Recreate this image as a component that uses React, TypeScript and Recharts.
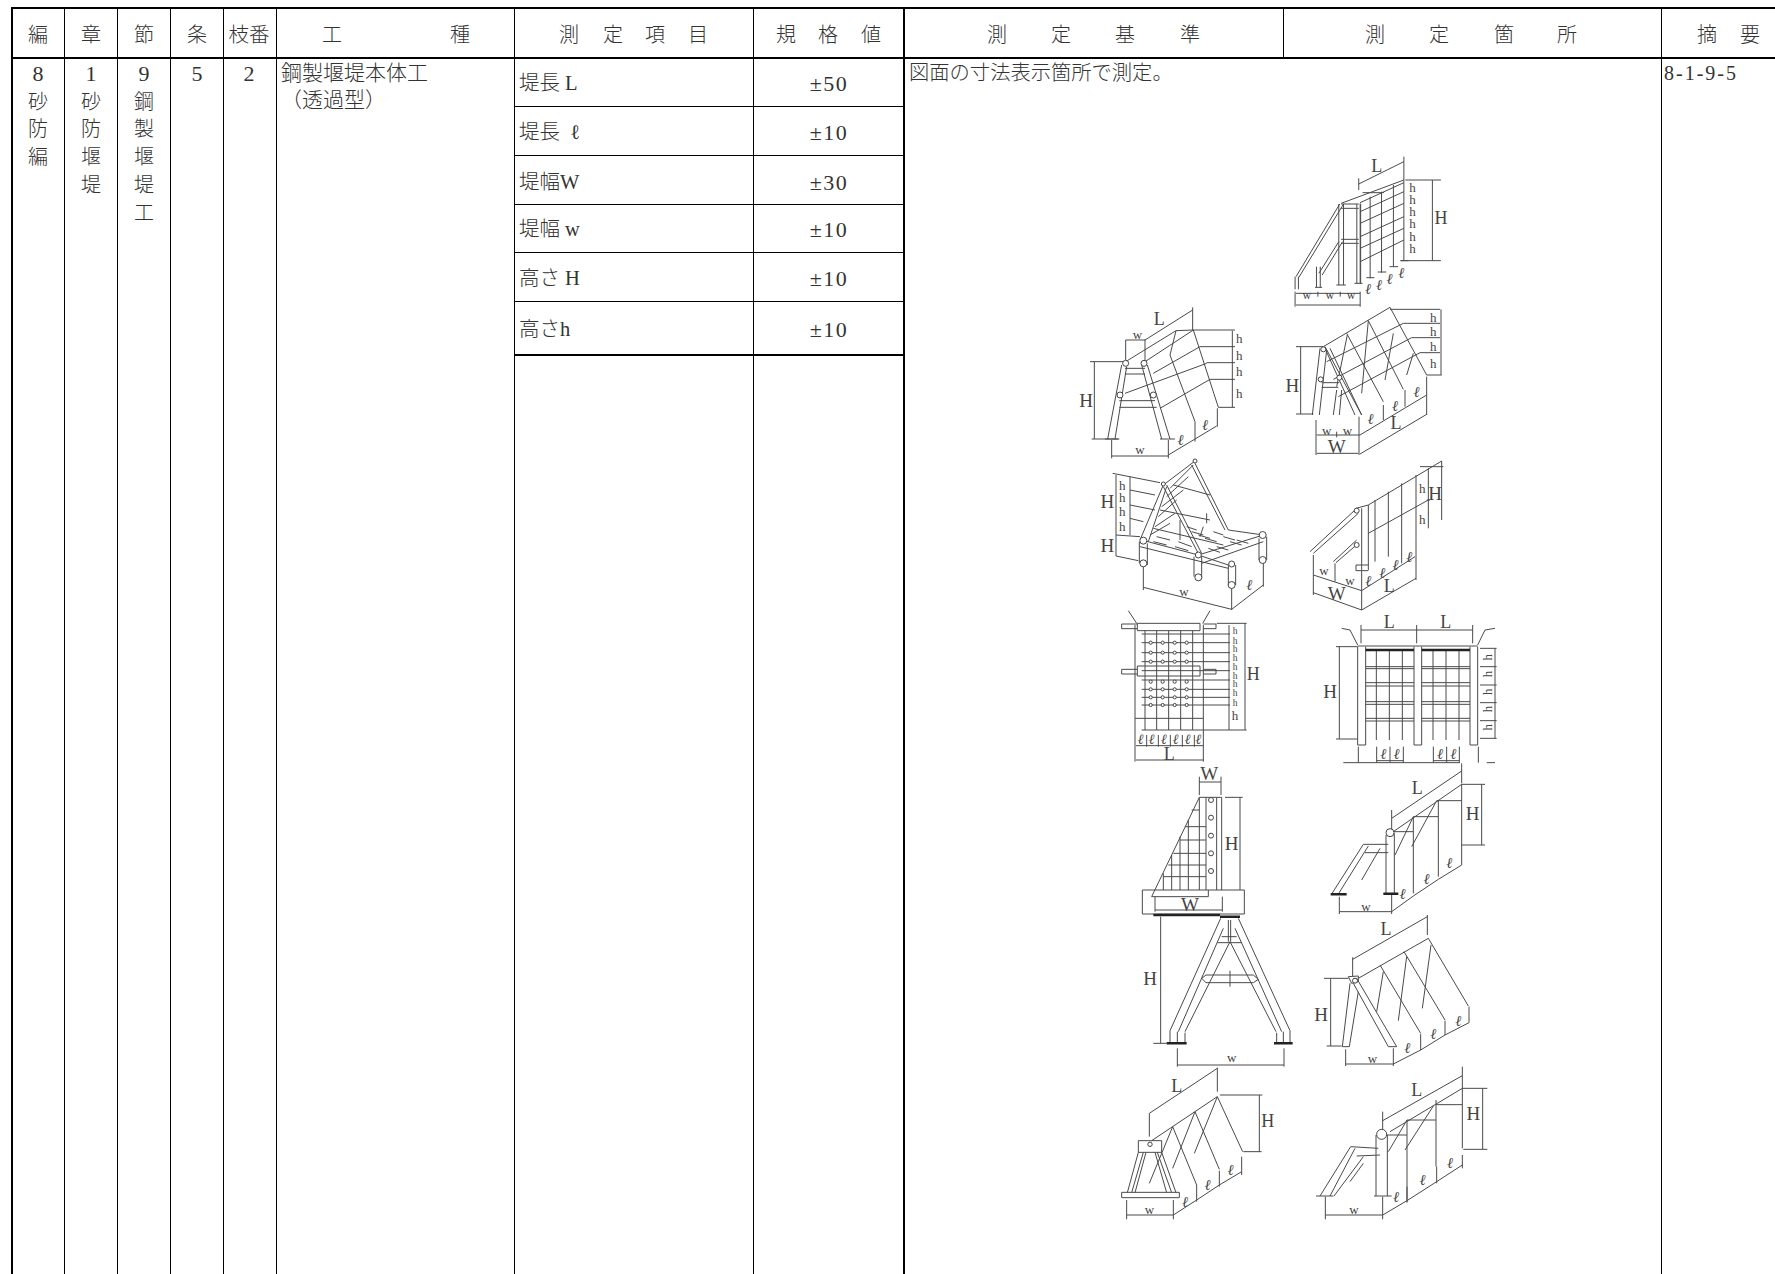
import { ComposedChart, Line, ReferenceLine, Scatter, XAxis, YAxis } from 'recharts';

const PAGE_W = 1775;
const PAGE_H = 1274;
const FONT = '"Liberation Serif", "Noto Sans CJK JP", serif';

// table content
const headerTexts = ['編', '章', '節', '条', '枝番', '工', '種', '測', '定', '項', '目', '規', '格', '値', '測', '定', '基', '準', '測', '定', '箇', '所', '摘', '要'];
const bookColumn = ['8', '砂', '防', '編'];
const chapterColumn = ['1', '砂', '防', '堰', '堤'];
const sectionColumn = ['9', '鋼', '製', '堰', '堤', '工'];
const articleNo = '5';
const branchNo = '2';
const workType = ['鋼製堰堤本体工', '（透過型）'];
const measureItems = ['堤長 L', '堤長  ℓ', '堤幅W', '堤幅 w', '高さ H', '高さh'];
const toleranceValues = ['±50', '±10', '±30', '±10', '±10', '±10'];
const criteriaText = '図面の寸法表示箇所で測定。';
const remarkText = '8-1-9-5';

// table layout
const headerXs = [38, 91, 144, 197, 249, 332, 460, 569, 613, 655, 698, 786, 828, 871, 997, 1061, 1125, 1190, 1375, 1439, 1504, 1567, 1707, 1750];
const verticalRules = [64, 117, 170, 223, 276, 514, 753, 1661];
const itemRowYs = [83, 132, 182, 229, 278, 329];
const itemRules = [106, 155, 204, 252, 301];
const stackYs = [73, 102, 129, 157, 185, 213];

type Sketch = {
  origin: number[];
  scale: number[];
  lines: number[][];
  heavy?: number[][];
  rings?: number[][];
  labels: (string | number)[][];
};

const sketchA: Sketch = {
  origin: [1030, 0],
  scale: [2.105, 3],
  lines: [
    [692, 552, 787, 485], [787, 470, 787, 540], [692, 535, 692, 570],
    [847, 540, 847, 782], [790, 540, 865, 540], [780, 782, 865, 782],
    [787, 540, 787, 782], [765, 555, 765, 800], [740, 575, 740, 818], [716, 590, 716, 835], [695, 610, 695, 850],
    [695, 635, 787, 575], [695, 670, 787, 610], [695, 710, 787, 650], [695, 745, 787, 685], [695, 785, 787, 720],
    [655, 610, 787, 540], [695, 608, 787, 548], [700, 578, 745, 578],
    [650, 612, 650, 855], [660, 612, 660, 855], [688, 612, 688, 850], [696, 612, 696, 850],
    [652, 612, 560, 830], [660, 612, 566, 832], [650, 725, 608, 820], [658, 725, 615, 825],
    [558, 830, 558, 868], [565, 830, 565, 868], [603, 800, 603, 862], [611, 800, 611, 862],
    [655, 612, 692, 612], [655, 625, 692, 625], [655, 718, 692, 718], [655, 730, 692, 730],
    [600, 862, 615, 862], [645, 855, 665, 855], [683, 850, 700, 850], [708, 833, 725, 833], [732, 816, 750, 816], [757, 800, 775, 800], [780, 782, 797, 782],
    [558, 875, 558, 920], [695, 875, 695, 920], [560, 915, 695, 915], [560, 880, 695, 880], [606, 875, 606, 890], [653, 875, 653, 890],
  ],
  labels: [
    ['L', 730, 497, 18], ['H', 865, 655, 18],
    ['h', 805, 562, 13], ['h', 805, 598, 13], ['h', 805, 635, 13], ['h', 805, 670, 13], ['h', 805, 708, 13], ['h', 805, 745, 13],
    ['w', 583, 884, 12], ['w', 631, 884, 12], ['w', 676, 884, 12],
    ['ℓ', 712, 868, 15], ['ℓ', 735, 855, 15], ['ℓ', 757, 838, 15], ['ℓ', 782, 820, 15],
  ],
};

const sketchB: Sketch = {
  origin: [1060, 300],
  scale: [3, 3],
  lines: [
    [255, 120, 398, 30], [398, 22, 398, 90], [255, 118, 255, 190],
    [197, 120, 255, 120], [197, 120, 197, 180],
    [103, 185, 103, 417], [90, 185, 190, 185], [95, 417, 175, 417],
    [517, 92, 517, 322], [400, 90, 525, 90], [420, 140, 525, 140], [440, 188, 525, 188], [450, 238, 525, 238], [475, 322, 525, 322],
    [197, 185, 348, 92, 400, 90], [255, 185, 400, 90],
    [400, 90, 475, 322], [348, 92, 330, 165, 405, 365],
    [280, 220, 420, 140], [195, 280, 440, 190], [300, 325, 450, 238],
    [325, 465, 470, 378], [405, 365, 405, 425], [472, 325, 472, 380],
    [185, 195, 143, 417], [200, 200, 165, 417], [245, 195, 305, 417], [262, 195, 330, 417],
    [135, 417, 178, 417], [300, 417, 345, 417],
    [195, 205, 255, 205], [195, 222, 255, 222], [178, 302, 285, 302], [178, 322, 290, 322],
    [155, 468, 325, 468], [155, 420, 155, 475], [325, 420, 325, 475],
  ],
  rings: [[197, 190, 3], [252, 190, 3], [180, 285, 3], [280, 285, 3]],
  labels: [
    ['L', 298, 58, 18], ['w', 232, 103, 13], ['H', 78, 300, 19],
    ['h', 538, 115, 13], ['h', 538, 165, 13], ['h', 538, 215, 13], ['h', 538, 280, 13],
    ['ℓ', 362, 420, 15], ['ℓ', 435, 375, 15], ['w', 240, 448, 13],
  ],
};

const sketchC: Sketch = {
  origin: [1060, 300],
  scale: [3, 3],
  lines: [
    [790, 140, 990, 22], [722, 140, 722, 342], [708, 140, 790, 140], [708, 342, 760, 342],
    [990, 22, 1100, 225], [925, 62, 1030, 268], [860, 100, 970, 305], [795, 140, 905, 345],
    [990, 28, 1140, 28], [1030, 70, 1140, 70], [1055, 113, 1140, 113], [1080, 158, 1140, 158], [1100, 225, 1145, 225], [1143, 28, 1143, 225],
    [800, 185, 1030, 70], [820, 238, 1055, 113], [835, 290, 1080, 158],
    [925, 62, 905, 280], [862, 105, 830, 260], [1000, 100, 975, 240], [1060, 160, 1040, 225],
    [780, 145, 757, 345], [800, 150, 778, 345], [795, 145, 885, 345], [810, 145, 905, 345], [830, 270, 820, 345], [845, 270, 838, 345],
    [785, 248, 838, 248], [785, 262, 835, 262],
    [770, 405, 900, 405], [830, 395, 830, 412], [770, 460, 895, 460], [768, 360, 768, 465], [897, 350, 897, 465],
    [900, 405, 1100, 285], [970, 315, 970, 360], [1035, 270, 1035, 320], [1100, 230, 1100, 345], [900, 462, 1100, 343],
  ],
  rings: [[782, 238, 2.5], [838, 233, 2.5], [790, 148, 2.5]],
  labels: [
    ['H', 697, 255, 19], ['h', 1120, 52, 13], ['h', 1120, 93, 13], ['h', 1120, 140, 13], ['h', 1120, 190, 13],
    ['w', 800, 390, 13], ['w', 862, 390, 13], ['W', 830, 440, 19],
    ['ℓ', 932, 358, 15], ['ℓ', 1005, 318, 15], ['ℓ', 1070, 275, 15], ['L', 1008, 368, 18],
  ],
};

const sketchD: Sketch = {
  origin: [1060, 300],
  scale: [3, 3],
  lines: [
    [310, 555, 405, 483], [330, 565, 400, 495], [240, 720, 310, 555], [265, 725, 320, 560],
    [405, 490, 505, 690], [395, 495, 495, 690], [310, 560, 420, 770], [320, 555, 425, 760],
    [320, 590, 385, 530], [305, 620, 370, 570], [295, 650, 350, 600], [285, 680, 345, 640], [270, 705, 330, 670],
    [340, 555, 450, 585], [300, 630, 450, 660], [280, 685, 490, 735],
    [245, 720, 415, 765, 505, 795], [240, 740, 505, 805], [415, 765, 610, 705], [505, 690, 610, 705], [425, 790, 610, 725],
    [430, 680, 420, 710], [360, 660, 360, 720], [440, 640, 440, 670],
    [380, 680, 410, 690], [395, 695, 430, 705], [415, 705, 450, 715], [435, 715, 470, 725], [460, 695, 490, 705], [490, 710, 525, 720], [510, 725, 545, 735], [530, 720, 565, 730],
    [290, 710, 330, 720], [280, 725, 320, 735], [355, 725, 395, 740], [345, 740, 385, 752], [445, 745, 480, 757], [470, 740, 505, 750],
    [238, 725, 238, 790], [262, 730, 262, 795], [402, 770, 402, 830], [425, 770, 425, 835], [505, 795, 505, 855], [527, 795, 527, 855], [597, 715, 597, 780], [620, 710, 620, 780],
    [168, 525, 168, 768], [210, 530, 210, 705], [158, 520, 300, 548], [210, 570, 285, 585], [210, 615, 285, 630], [210, 655, 250, 665], [168, 705, 240, 710], [168, 768, 235, 782],
    [250, 862, 515, 928], [250, 800, 250, 870], [515, 860, 515, 930], [515, 928, 610, 855], [610, 780, 610, 860],
  ],
  rings: [[250, 790, 3.5], [415, 832, 3.5], [515, 855, 3.5], [608, 780, 3.5], [608, 705, 3.5], [250, 722, 3.5], [415, 765, 3], [515, 792, 3], [310, 552, 2], [405, 483, 2]],
  labels: [
    ['H', 142, 605, 19], ['H', 142, 735, 19], ['h', 187, 555, 13], ['h', 187, 592, 13], ['h', 187, 635, 13], ['h', 187, 680, 13],
    ['w', 372, 875, 13], ['ℓ', 568, 855, 15],
  ],
};

const sketchE: Sketch = {
  origin: [1060, 300],
  scale: [3, 3],
  lines: [
    [925, 615, 1145, 483], [925, 700, 1105, 600],
    [985, 575, 985, 770], [1025, 550, 1025, 790], [1068, 525, 1068, 710], [945, 600, 945, 785], [1105, 505, 1105, 685],
    [905, 625, 905, 810], [925, 615, 925, 810], [888, 625, 925, 615],
    [750, 755, 885, 630], [760, 760, 895, 640], [820, 785, 890, 720], [828, 788, 895, 730],
    [888, 795, 925, 795], [888, 812, 925, 812], [888, 795, 888, 812],
    [1145, 483, 1145, 660], [1080, 500, 1150, 500], [1100, 600, 1110, 600],
    [760, 825, 905, 872], [760, 878, 905, 930], [905, 872, 1065, 770], [905, 930, 1068, 835],
    [905, 812, 905, 930], [1068, 710, 1068, 840], [760, 765, 760, 885], [825, 790, 825, 845],
  ],
  rings: [[890, 632, 2.5], [890, 735, 2.5]],
  labels: [
    ['h', 1087, 565, 13], ['h', 1087, 658, 13], ['H', 1125, 580, 19],
    ['w', 792, 812, 13], ['w', 870, 842, 13], ['W', 830, 880, 19],
    ['ℓ', 925, 843, 15], ['ℓ', 967, 818, 15], ['ℓ', 1007, 795, 15], ['ℓ', 1048, 770, 15], ['L', 988, 858, 18],
  ],
};

const sketchF: Sketch = {
  origin: [1060, 610],
  scale: [3, 3],
  lines: [
    [225, 45, 225, 455], [430, 45, 430, 455], [225, 325, 430, 325], [245, 360, 560, 360],
    [232, 40, 420, 40], [232, 62, 420, 62], [232, 40, 232, 62], [420, 40, 420, 62],
    [185, 42, 232, 42], [185, 56, 232, 56], [185, 42, 185, 56], [430, 42, 468, 42], [430, 56, 468, 56], [468, 42, 468, 56],
    [185, 178, 232, 178], [185, 192, 232, 192], [185, 178, 185, 192], [430, 178, 468, 178], [430, 192, 468, 192], [468, 178, 468, 192],
    [232, 168, 420, 168], [232, 198, 420, 198], [232, 168, 232, 198], [420, 168, 420, 198],
    [205, 2, 230, 40], [450, 2, 428, 40],
    [255, 62, 255, 360], [290, 62, 290, 360], [326, 62, 326, 360], [362, 62, 362, 360], [398, 62, 398, 360],
    [245, 72, 510, 72], [245, 98, 510, 98], [245, 128, 510, 128], [245, 155, 510, 155], [245, 182, 510, 182], [245, 210, 510, 210], [245, 238, 510, 238], [245, 262, 510, 262], [245, 285, 510, 285],
    [507, 45, 507, 360], [555, 40, 555, 360], [470, 40, 560, 40],
    [228, 407, 430, 407], [228, 450, 430, 450], [260, 375, 260, 410], [295, 375, 295, 410], [331, 375, 331, 410], [367, 375, 367, 410], [403, 375, 403, 410],
  ],
  heavy: [],
  rings: [
    [272, 98, 1.6], [308, 98, 1.6], [344, 98, 1.6], [380, 98, 1.6],
    [272, 128, 1.6], [308, 128, 1.6], [344, 128, 1.6], [380, 128, 1.6],
    [272, 155, 1.6], [308, 155, 1.6], [344, 155, 1.6], [380, 155, 1.6],
    [272, 215, 1.6], [308, 215, 1.6], [344, 215, 1.6], [380, 215, 1.6],
    [272, 238, 1.6], [308, 238, 1.6], [344, 238, 1.6], [380, 238, 1.6],
    [272, 262, 1.6], [308, 262, 1.6], [344, 262, 1.6], [380, 262, 1.6],
    [272, 285, 1.6], [308, 285, 1.6], [344, 285, 1.6], [380, 285, 1.6],
  ],
  labels: [
    ['h', 525, 62, 9.5], ['h', 525, 92, 9.5], ['h', 525, 118, 9.5], ['h', 525, 145, 9.5], ['h', 525, 172, 9.5], ['h', 525, 197, 9.5], ['h', 525, 222, 9.5], ['h', 525, 250, 9.5], ['h', 525, 278, 9.5], ['h', 525, 316, 13],
    ['H', 580, 192, 18],
    ['ℓ', 242, 387, 14], ['ℓ', 275, 387, 14], ['ℓ', 312, 387, 14], ['ℓ', 347, 387, 14], ['ℓ', 383, 387, 14], ['ℓ', 415, 387, 14],
    ['L', 328, 432, 18],
  ],
};

const sketchG: Sketch = {
  origin: [1060, 610],
  scale: [3, 3],
  lines: [
    [893, 110, 893, 390], [917, 110, 917, 390], [1062, 110, 1062, 390], [1085, 110, 1085, 390], [1230, 110, 1230, 390], [1253, 110, 1253, 390],
    [893, 108, 1253, 108], [845, 55, 870, 60, 893, 105], [1305, 55, 1275, 60, 1253, 105],
    [917, 170, 1062, 170], [917, 176, 1062, 176], [917, 218, 1062, 218], [917, 228, 1062, 228], [917, 275, 1062, 275], [917, 283, 1062, 283], [917, 325, 1062, 325], [917, 333, 1062, 333],
    [1085, 170, 1230, 170], [1085, 176, 1230, 176], [1085, 218, 1230, 218], [1085, 228, 1230, 228], [1085, 275, 1230, 275], [1085, 283, 1230, 283], [1085, 325, 1230, 325], [1085, 333, 1230, 333],
    [949, 118, 949, 390], [988, 118, 988, 390], [1027, 118, 1027, 390],
    [1119, 118, 1119, 390], [1158, 118, 1158, 390], [1197, 118, 1197, 390],
    [893, 405, 917, 405], [1062, 405, 1085, 405], [1230, 405, 1253, 405], [893, 390, 893, 405], [917, 390, 917, 405], [1062, 390, 1062, 405], [1085, 390, 1085, 405], [1230, 390, 1230, 405], [1253, 390, 1253, 405],
    [903, 60, 1238, 60], [903, 45, 903, 100], [1070, 45, 1070, 100], [1238, 45, 1238, 100],
    [838, 110, 838, 387], [828, 110, 893, 110], [828, 387, 893, 387],
    [1305, 115, 1305, 385], [1260, 115, 1310, 115], [1260, 170, 1310, 170], [1260, 225, 1310, 225], [1260, 278, 1310, 278], [1260, 332, 1310, 332], [1260, 385, 1310, 385],
    [950, 452, 1030, 452], [950, 410, 950, 458], [990, 410, 990, 458], [1030, 410, 1030, 458],
    [1120, 452, 1198, 452], [1120, 410, 1120, 458], [1160, 410, 1160, 458], [1198, 410, 1198, 458],
    [850, 458, 1200, 458], [895, 410, 895, 458], [1255, 410, 1255, 458], [1280, 458, 1305, 458],
  ],
  heavy: [[917, 120, 1062, 120], [1085, 120, 1230, 120]],
  labels: [
    ['L', 988, 35, 18], ['L', 1157, 35, 18], ['H', 810, 245, 19],
    ['h', 1283, 142, 13, 'r'], ['h', 1283, 192, 13, 'r'], ['h', 1283, 245, 13, 'r'], ['h', 1283, 297, 13, 'r'], ['h', 1283, 352, 13, 'r'],
    ['ℓ', 970, 432, 15], ['ℓ', 1010, 432, 15], ['ℓ', 1140, 432, 15], ['ℓ', 1180, 432, 15],
  ],
};

const sketchH: Sketch = {
  origin: [1060, 610],
  scale: [3, 3],
  lines: [
    [275, 860, 418, 562, 485, 562], [485, 562, 485, 840], [470, 562, 470, 840], [438, 562, 438, 840], [418, 562, 418, 840],
    [385, 630, 385, 840], [360, 680, 360, 840], [335, 735, 335, 840], [310, 790, 310, 840],
    [395, 600, 418, 600], [375, 650, 438, 650], [360, 690, 438, 690], [340, 730, 438, 730], [325, 765, 438, 765], [310, 800, 438, 800],
    [247, 840, 553, 840, 553, 912, 247, 912, 247, 840], [275, 860, 445, 860, 445, 840],
    [418, 516, 483, 516], [418, 500, 418, 555], [483, 500, 483, 555],
    [540, 562, 540, 840], [495, 562, 548, 562],
    [285, 900, 487, 900], [285, 860, 285, 905], [487, 860, 487, 905],
  ],
  heavy: [[280, 915, 480, 915]],
  rings: [[453, 570, 2.5], [453, 623, 2.5], [453, 677, 2.5], [453, 730, 2.5], [453, 783, 2.5]],
  labels: [['W', 448, 490, 19], ['H', 515, 700, 19], ['W', 390, 883, 19]],
};

const sketchI: Sketch = {
  origin: [1060, 610],
  scale: [3, 3],
  lines: [
    [995, 625, 1205, 483], [1205, 460, 1205, 520], [995, 600, 995, 660],
    [1265, 523, 1265, 705], [1205, 523, 1275, 523], [1205, 705, 1275, 705],
    [1000, 665, 1205, 523], [1060, 620, 1060, 850], [1135, 570, 1135, 800], [1205, 523, 1205, 765],
    [1130, 572, 1205, 572], [1060, 620, 1135, 620], [1000, 665, 1060, 665],
    [1060, 620, 1005, 735], [1130, 572, 1055, 710], [960, 715, 905, 810],
    [978, 675, 978, 850], [1003, 670, 1003, 850],
    [910, 703, 815, 852], [925, 708, 835, 852], [910, 703, 985, 703], [915, 728, 985, 728],
    [838, 905, 995, 905], [838, 860, 838, 912], [995, 855, 995, 912],
    [995, 905, 1060, 858], [1060, 858, 1135, 808], [1135, 808, 1205, 765],
  ],
  heavy: [[970, 851, 1015, 851], [812, 853, 860, 853]],
  rings: [[990, 668, 4]],
  labels: [
    ['L', 1072, 535, 18], ['H', 1238, 610, 19], ['w', 918, 888, 13],
    ['ℓ', 1028, 853, 15], ['ℓ', 1100, 808, 15], ['ℓ', 1168, 758, 15],
  ],
};

const sketchJ: Sketch = {
  origin: [1100, 900],
  scale: [3, 3],
  lines: [
    [362, 55, 210, 392], [370, 85, 235, 395], [390, 125, 255, 395],
    [415, 55, 570, 392], [405, 85, 545, 395], [390, 125, 528, 395],
    [210, 392, 210, 428], [232, 395, 232, 428], [255, 398, 255, 428], [530, 398, 530, 428], [550, 395, 550, 428], [570, 392, 570, 428],
    [305, 235, 318, 225, 460, 225, 475, 238, 460, 248, 318, 248, 305, 235], [390, 212, 390, 260],
    [352, 128, 425, 128], [365, 110, 410, 110], [385, 60, 385, 125], [392, 60, 392, 125],
    [182, 50, 182, 430], [160, 430, 200, 430],
    [232, 495, 552, 495], [232, 445, 232, 500], [552, 445, 552, 500],
  ],
  heavy: [[360, 50, 420, 50], [200, 430, 260, 430], [522, 430, 578, 430]],
  labels: [['H', 150, 235, 19], ['w', 395, 472, 13]],
};

const sketchK: Sketch = {
  origin: [1100, 900],
  scale: [3, 3],
  lines: [
    [758, 178, 982, 50], [982, 45, 982, 105], [758, 172, 758, 228],
    [692, 235, 692, 438], [672, 235, 745, 235], [680, 438, 725, 438],
    [775, 235, 985, 115],
    [985, 115, 1105, 318], [912, 155, 1035, 360], [840, 195, 962, 400], [770, 235, 890, 440], [760, 250, 865, 440],
    [993, 135, 967, 325], [920, 170, 895, 362], [850, 215, 830, 335],
    [750, 250, 727, 440], [775, 275, 748, 440], [727, 440, 748, 440], [865, 440, 890, 440],
    [745, 230, 775, 228, 775, 245, 755, 250, 745, 230],
    [737, 492, 880, 492], [737, 448, 737, 498], [880, 445, 880, 498],
    [880, 492, 962, 450], [962, 450, 1035, 405], [1035, 405, 1107, 368], [962, 402, 962, 450], [1035, 362, 1035, 405], [1107, 320, 1107, 368],
  ],
  rings: [[765, 242, 2.5]],
  labels: [
    ['L', 858, 87, 18], ['H', 663, 342, 19], ['w', 817, 475, 13],
    ['ℓ', 922, 445, 15], ['ℓ', 1000, 402, 15], ['ℓ', 1075, 362, 15],
  ],
};

const sketchL: Sketch = {
  origin: [1100, 900],
  scale: [3, 3],
  lines: [
    [148, 640, 352, 505], [352, 503, 352, 575], [148, 640, 148, 710],
    [478, 585, 478, 755], [360, 585, 487, 585], [430, 755, 485, 755],
    [155, 722, 352, 590],
    [352, 590, 428, 755], [285, 635, 358, 808], [218, 680, 290, 855],
    [352, 590, 283, 760], [285, 635, 218, 805], [218, 680, 148, 850],
    [115, 722, 185, 722, 185, 757, 115, 757, 115, 722],
    [115, 757, 82, 878], [130, 757, 95, 878], [138, 757, 105, 878], [165, 757, 200, 878], [172, 757, 215, 878], [185, 757, 228, 878],
    [65, 877, 238, 877, 238, 893, 65, 893, 65, 877],
    [80, 945, 220, 945], [80, 900, 80, 958], [220, 900, 220, 958],
    [220, 945, 290, 900], [290, 900, 358, 855], [358, 855, 425, 815], [290, 855, 290, 905], [358, 812, 358, 860], [425, 770, 425, 825],
  ],
  rings: [[150, 733, 2.2]],
  labels: [
    ['L', 230, 557, 18], ['H', 503, 663, 18], ['w', 148, 928, 13],
    ['ℓ', 255, 905, 15], ['ℓ', 323, 855, 15], ['ℓ', 392, 810, 15],
  ],
};

const sketchM: Sketch = {
  origin: [1100, 900],
  scale: [3, 3],
  lines: [
    [848, 662, 1087, 527], [1087, 500, 1087, 745], [848, 635, 848, 690],
    [1148, 565, 1148, 748], [1087, 565, 1162, 565], [1090, 748, 1162, 748],
    [870, 695, 1087, 565], [1008, 600, 1008, 800], [921, 660, 921, 905],
    [1008, 614, 1087, 614], [921, 660, 1008, 660], [850, 705, 921, 705],
    [921, 660, 865, 755], [1000, 618, 915, 750], [790, 790, 750, 845],
    [828, 705, 828, 888], [862, 705, 862, 888], [822, 888, 875, 888],
    [752, 740, 660, 888], [765, 745, 690, 888], [790, 770, 702, 888], [752, 740, 835, 745], [770, 768, 840, 765], [648, 888, 700, 888],
    [676, 945, 848, 945], [676, 890, 676, 958], [848, 890, 848, 958],
    [848, 945, 921, 902], [921, 902, 1010, 845], [1010, 845, 1087, 795], [921, 860, 921, 908], [1010, 800, 1010, 850], [1087, 765, 1087, 805],
  ],
  rings: [[845, 703, 5]],
  labels: [
    ['L', 950, 570, 18], ['H', 1120, 640, 19], ['w', 762, 928, 13],
    ['ℓ', 888, 892, 15], ['ℓ', 968, 840, 15], ['ℓ', 1050, 790, 15],
  ],
};

const sketches = [sketchA, sketchB, sketchC, sketchD, sketchE, sketchF, sketchG, sketchH, sketchI, sketchJ, sketchK, sketchL, sketchM];

// crop readings -> page units, null y breaks the stroke
function toStrokePoints(s: Sketch, strokes: number[][]) {
  const pts: { x: number; y: number | null }[] = [];
  strokes.forEach((st) => {
    for (let i = 0; i < st.length; i += 2) {
      pts.push({ x: s.origin[0] + st[i] / s.scale[0], y: s.origin[1] + st[i + 1] / s.scale[1] });
    }
    pts.push({ x: s.origin[0] + st[st.length - 2] / s.scale[0], y: null });
  });
  return pts;
}

type Note = { x: number; y: number; text: string; size: number; anchor?: string; rotate?: boolean; spacing?: number };

const stackSize = (t: string) => (/[0-9]/.test(t) ? 22 : 20);

const notes: Note[] = [];
headerTexts.forEach((t, i) => notes.push({ x: headerXs[i], y: 35, text: t, size: t.length > 1 ? 20.5 : 20 }));
bookColumn.forEach((t, i) => notes.push({ x: 38, y: stackYs[i], text: t, size: stackSize(t) }));
chapterColumn.forEach((t, i) => notes.push({ x: 91, y: stackYs[i], text: t, size: stackSize(t) }));
sectionColumn.forEach((t, i) => notes.push({ x: 144, y: stackYs[i], text: t, size: stackSize(t) }));
notes.push({ x: 197, y: stackYs[0], text: articleNo, size: 22 });
notes.push({ x: 249, y: stackYs[0], text: branchNo, size: 22 });
notes.push({ x: 281, y: 73, text: workType[0], size: 21, anchor: 'start' });
notes.push({ x: 281, y: 100, text: workType[1], size: 21, anchor: 'start' });
measureItems.forEach((t, i) => notes.push({ x: 519, y: itemRowYs[i], text: t, size: 20.5, anchor: 'start' }));
toleranceValues.forEach((t, i) => notes.push({ x: 829, y: itemRowYs[i], text: t, size: 22, spacing: 1.5 }));
notes.push({ x: 909, y: stackYs[0], text: criteriaText, size: 20.3, anchor: 'start' });
notes.push({ x: 1664, y: stackYs[0], text: remarkText, size: 20, anchor: 'start', spacing: 2 });
sketches.forEach((s) =>
  s.labels.forEach((l) =>
    notes.push({
      x: s.origin[0] + (l[1] as number) / s.scale[0],
      y: s.origin[1] + (l[2] as number) / s.scale[1],
      text: l[0] as string,
      size: l[3] as number,
      rotate: l[4] === 'r',
    })
  )
);

const rings = sketches.flatMap((s) =>
  (s.rings ?? []).map((r) => ({ x: s.origin[0] + r[0] / s.scale[0], y: s.origin[1] + r[1] / s.scale[1], r: r[2] }))
);

const NoteShape = (props: any) => {
  const { cx, cy, payload } = props;
  const isLetterL = payload.text === 'ℓ';
  return (
    <text
      x={cx}
      y={cy}
      fill={payload.size < 20 ? '#444' : '#333'}
      fontFamily={FONT}
      fontSize={payload.size}
      fontWeight={300}
      fontStyle={isLetterL ? 'italic' : 'normal'}
      textAnchor={payload.anchor ?? 'middle'}
      dominantBaseline="central"
      letterSpacing={payload.spacing}
      transform={payload.rotate ? `rotate(-90 ${cx} ${cy})` : undefined}
      style={{ whiteSpace: 'pre' }}
    >
      {payload.text}
    </text>
  );
};

const RingShape = (props: any) => (
  <circle cx={props.cx} cy={props.cy} r={props.payload.r} fill="#fff" stroke="#444" strokeWidth={1} />
);

const seg = (x1: number, y1: number, x2: number, y2: number) => [{ x: x1, y: y1 }, { x: x2, y: y2 }];

export default function App() {
  return (
    <div style={{ position: 'absolute', left: 0, top: 0, width: PAGE_W, height: PAGE_H, background: '#fff', overflow: 'hidden' }}>
      <ComposedChart width={PAGE_W} height={PAGE_H} margin={{ top: 0, right: 0, bottom: 0, left: 0 }}>
        <XAxis type="number" dataKey="x" domain={[0, PAGE_W]} hide allowDataOverflow />
        <YAxis type="number" dataKey="y" domain={[0, PAGE_H]} reversed hide allowDataOverflow />

        {verticalRules.map((x) => (
          <ReferenceLine key={x} segment={seg(x + 0.5, 8, x + 0.5, PAGE_H)} stroke="#000" strokeWidth={1} />
        ))}
        <ReferenceLine segment={seg(1283.5, 8, 1283.5, 58)} stroke="#000" strokeWidth={1} />
        {itemRules.map((y) => (
          <ReferenceLine key={y} segment={seg(514, y + 0.5, 904, y + 0.5)} stroke="#000" strokeWidth={1} />
        ))}
        <ReferenceLine segment={seg(12, 7, 12, PAGE_H)} stroke="#000" strokeWidth={2} />
        <ReferenceLine segment={seg(904, 8, 904, PAGE_H)} stroke="#000" strokeWidth={2} />
        <ReferenceLine segment={seg(11, 8, PAGE_W, 8)} stroke="#000" strokeWidth={2} />
        <ReferenceLine segment={seg(11, 58, PAGE_W, 58)} stroke="#000" strokeWidth={2} />
        <ReferenceLine segment={seg(514, 355, 904, 355)} stroke="#000" strokeWidth={2} />

        {sketches.map((s, i) => (
          <Line
            key={`thin-${i}`}
            data={toStrokePoints(s, s.lines)}
            dataKey="y"
            type="linear"
            stroke="#4a4a4a"
            strokeWidth={1}
            dot={false}
            activeDot={false}
            legendType="none"
            isAnimationActive={false}
          />
        ))}
        {sketches.filter((s) => s.heavy && s.heavy.length).map((s, i) => (
          <Line
            key={`heavy-${i}`}
            data={toStrokePoints(s, s.heavy as number[][])}
            dataKey="y"
            type="linear"
            stroke="#222"
            strokeWidth={2.5}
            dot={false}
            activeDot={false}
            legendType="none"
            isAnimationActive={false}
          />
        ))}
        <Scatter data={rings} dataKey="y" shape={RingShape} isAnimationActive={false} />
        <Scatter data={notes} dataKey="y" shape={NoteShape} isAnimationActive={false} />
      </ComposedChart>
    </div>
  );
}
